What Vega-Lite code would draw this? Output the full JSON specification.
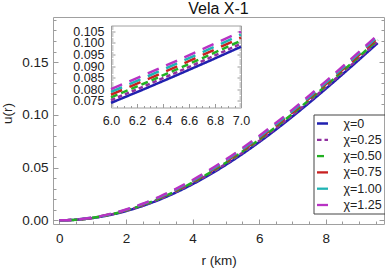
{
  "$schema": "https://vega.github.io/schema/vega-lite/v6.json",
  "padding": {"left": 0, "top": 0, "right": 0, "bottom": 0},
  "background": "white",
  "config": {
    "font": "Liberation Sans",
    "view": {"stroke": "#a0a0a0", "strokeWidth": 1},
    "axis": {"grid": false, "domain": false, "labelColor": "#222", "titleColor": "#222", "tickColor": "#9a9a9a", "tickWidth": 1, "titleFontWeight": "normal", "labelFont": "Liberation Sans", "titleFont": "Liberation Sans"}
  },
  "datasets": {
    "curves": [
      {"r":0,"chi":"χ=0","u":0},{"r":0.5,"chi":"χ=0","u":0.00055},{"r":1,"chi":"χ=0","u":0.0022},{"r":1.5,"chi":"χ=0","u":0.00493},{"r":2,"chi":"χ=0","u":0.00874},{"r":2.5,"chi":"χ=0","u":0.0136},{"r":3,"chi":"χ=0","u":0.01949},{"r":3.5,"chi":"χ=0","u":0.02637},{"r":4,"chi":"χ=0","u":0.0342},{"r":4.5,"chi":"χ=0","u":0.04294},{"r":5,"chi":"χ=0","u":0.05254},{"r":5.5,"chi":"χ=0","u":0.06295},{"r":6,"chi":"χ=0","u":0.07409},{"r":6.25,"chi":"χ=0","u":0.07992},{"r":6.5,"chi":"χ=0","u":0.08591},{"r":6.75,"chi":"χ=0","u":0.09204},{"r":7,"chi":"χ=0","u":0.09832},{"r":7.5,"chi":"χ=0","u":0.11125},{"r":8,"chi":"χ=0","u":0.1246},{"r":8.5,"chi":"χ=0","u":0.1383},{"r":9,"chi":"χ=0","u":0.15223},{"r":9.56,"chi":"χ=0","u":0.168},
      {"r":0,"chi":"χ=0.25","u":0},{"r":0.5,"chi":"χ=0.25","u":0.00057},{"r":1,"chi":"χ=0.25","u":0.00228},{"r":1.5,"chi":"χ=0.25","u":0.00511},{"r":2,"chi":"χ=0.25","u":0.00904},{"r":2.5,"chi":"χ=0.25","u":0.01403},{"r":3,"chi":"χ=0.25","u":0.02005},{"r":3.5,"chi":"χ=0.25","u":0.02706},{"r":4,"chi":"χ=0.25","u":0.03501},{"r":4.5,"chi":"χ=0.25","u":0.04386},{"r":5,"chi":"χ=0.25","u":0.05356},{"r":5.5,"chi":"χ=0.25","u":0.06405},{"r":6,"chi":"χ=0.25","u":0.07527},{"r":6.25,"chi":"χ=0.25","u":0.08114},{"r":6.5,"chi":"χ=0.25","u":0.08716},{"r":6.75,"chi":"χ=0.25","u":0.09332},{"r":7,"chi":"χ=0.25","u":0.09963},{"r":7.5,"chi":"χ=0.25","u":0.11261},{"r":8,"chi":"χ=0.25","u":0.12601},{"r":8.5,"chi":"χ=0.25","u":0.13975},{"r":9,"chi":"χ=0.25","u":0.15372},{"r":9.56,"chi":"χ=0.25","u":0.16953},
      {"r":0,"chi":"χ=0.50","u":0},{"r":0.5,"chi":"χ=0.50","u":0.00059},{"r":1,"chi":"χ=0.50","u":0.00237},{"r":1.5,"chi":"χ=0.50","u":0.00529},{"r":2,"chi":"χ=0.50","u":0.00933},{"r":2.5,"chi":"χ=0.50","u":0.01445},{"r":3,"chi":"χ=0.50","u":0.02061},{"r":3.5,"chi":"χ=0.50","u":0.02774},{"r":4,"chi":"χ=0.50","u":0.03581},{"r":4.5,"chi":"χ=0.50","u":0.04477},{"r":5,"chi":"χ=0.50","u":0.05457},{"r":5.5,"chi":"χ=0.50","u":0.06516},{"r":6,"chi":"χ=0.50","u":0.07645},{"r":6.25,"chi":"χ=0.50","u":0.08235},{"r":6.5,"chi":"χ=0.50","u":0.08841},{"r":6.75,"chi":"χ=0.50","u":0.0946},{"r":7,"chi":"χ=0.50","u":0.10094},{"r":7.5,"chi":"χ=0.50","u":0.11398},{"r":8,"chi":"χ=0.50","u":0.12742},{"r":8.5,"chi":"χ=0.50","u":0.14121},{"r":9,"chi":"χ=0.50","u":0.15521},{"r":9.56,"chi":"χ=0.50","u":0.17105},
      {"r":0,"chi":"χ=0.75","u":0},{"r":0.5,"chi":"χ=0.75","u":0.00062},{"r":1,"chi":"χ=0.75","u":0.00245},{"r":1.5,"chi":"χ=0.75","u":0.00547},{"r":2,"chi":"χ=0.75","u":0.00963},{"r":2.5,"chi":"χ=0.75","u":0.01488},{"r":3,"chi":"χ=0.75","u":0.02117},{"r":3.5,"chi":"χ=0.75","u":0.02843},{"r":4,"chi":"χ=0.75","u":0.03662},{"r":4.5,"chi":"χ=0.75","u":0.04569},{"r":5,"chi":"χ=0.75","u":0.05559},{"r":5.5,"chi":"χ=0.75","u":0.06626},{"r":6,"chi":"χ=0.75","u":0.07764},{"r":6.25,"chi":"χ=0.75","u":0.08357},{"r":6.5,"chi":"χ=0.75","u":0.08966},{"r":6.75,"chi":"χ=0.75","u":0.09589},{"r":7,"chi":"χ=0.75","u":0.10225},{"r":7.5,"chi":"χ=0.75","u":0.11534},{"r":8,"chi":"χ=0.75","u":0.12883},{"r":8.5,"chi":"χ=0.75","u":0.14266},{"r":9,"chi":"χ=0.75","u":0.1567},{"r":9.56,"chi":"χ=0.75","u":0.17258},
      {"r":0,"chi":"χ=1.00","u":0},{"r":0.5,"chi":"χ=1.00","u":0.00064},{"r":1,"chi":"χ=1.00","u":0.00254},{"r":1.5,"chi":"χ=1.00","u":0.00565},{"r":2,"chi":"χ=1.00","u":0.00993},{"r":2.5,"chi":"χ=1.00","u":0.01531},{"r":3,"chi":"χ=1.00","u":0.02172},{"r":3.5,"chi":"χ=1.00","u":0.02912},{"r":4,"chi":"χ=1.00","u":0.03743},{"r":4.5,"chi":"χ=1.00","u":0.04661},{"r":5,"chi":"χ=1.00","u":0.0566},{"r":5.5,"chi":"χ=1.00","u":0.06737},{"r":6,"chi":"χ=1.00","u":0.07882},{"r":6.25,"chi":"χ=1.00","u":0.08479},{"r":6.5,"chi":"χ=1.00","u":0.09091},{"r":6.75,"chi":"χ=1.00","u":0.09717},{"r":7,"chi":"χ=1.00","u":0.10357},{"r":7.5,"chi":"χ=1.00","u":0.11671},{"r":8,"chi":"χ=1.00","u":0.13025},{"r":8.5,"chi":"χ=1.00","u":0.14411},{"r":9,"chi":"χ=1.00","u":0.15819},{"r":9.56,"chi":"χ=1.00","u":0.1741},
      {"r":0,"chi":"χ=1.25","u":0},{"r":0.5,"chi":"χ=1.25","u":0.00066},{"r":1,"chi":"χ=1.25","u":0.00262},{"r":1.5,"chi":"χ=1.25","u":0.00583},{"r":2,"chi":"χ=1.25","u":0.01023},{"r":2.5,"chi":"χ=1.25","u":0.01573},{"r":3,"chi":"χ=1.25","u":0.02228},{"r":3.5,"chi":"χ=1.25","u":0.0298},{"r":4,"chi":"χ=1.25","u":0.03823},{"r":4.5,"chi":"χ=1.25","u":0.04752},{"r":5,"chi":"χ=1.25","u":0.05762},{"r":5.5,"chi":"χ=1.25","u":0.06847},{"r":6,"chi":"χ=1.25","u":0.08},{"r":6.25,"chi":"χ=1.25","u":0.08601},{"r":6.5,"chi":"χ=1.25","u":0.09216},{"r":6.75,"chi":"χ=1.25","u":0.09845},{"r":7,"chi":"χ=1.25","u":0.10488},{"r":7.5,"chi":"χ=1.25","u":0.11807},{"r":8,"chi":"χ=1.25","u":0.13166},{"r":8.5,"chi":"χ=1.25","u":0.14557},{"r":9,"chi":"χ=1.25","u":0.15968},{"r":9.56,"chi":"χ=1.25","u":0.17563}
    ]
  },
  "bounds": "full",
  "align": "none",
  "columns": 2,
  "spacing": {"column": -313, "row": 0},
  "concat": [
    {
      "width": 331,
      "height": 207,
      "title": {"text": "Vela X-1", "frame": "group", "anchor": "middle", "fontSize": 16, "fontWeight": "normal", "baseline": "alphabetic", "offset": -17, "color": "#111", "font": "Liberation Sans"},
      "data": {"name": "curves"},
      "layer": [
        {
          "mark": {"type": "line", "strokeWidth": 2.5, "interpolate": "monotone"},
          "encoding": {
            "x": {"field": "r", "type": "quantitative", "scale": {"domain": [-0.19, 9.75], "nice": false, "zero": false},
              "axis": {"orient": "bottom", "title": "r (km)", "values": [0,0.5,1,1.5,2,2.5,3,3.5,4,4.5,5,5.5,6,6.5,7,7.5,8,8.5,9,9.5],
                "format": ".0f",
                "labelExpr": "datum.value % 2 === 0 ? datum.label : ''",
                "tickSize": {"condition": {"test": "datum.value % 2 === 0", "value": -5}, "value": -3},
                "labelPadding": 12, "labelFontSize": 13.5, "titleFontSize": 13.5, "titlePadding": 7, "labelFlush": false, "labelOverlap": false}},
            "y": {"field": "u", "type": "quantitative", "scale": {"domain": [-0.0035, 0.1927], "nice": false, "zero": false},
              "axis": {"orient": "left", "title": "u(r)", "values": [0,0.01,0.02,0.03,0.04,0.05,0.06,0.07,0.08,0.09,0.1,0.11,0.12,0.13,0.14,0.15,0.16,0.17,0.18,0.19],
                "format": ".2f",
                "labelExpr": "abs(datum.value*20 - round(datum.value*20)) < 1e-6 ? datum.label : ''",
                "tickSize": {"condition": {"test": "abs(datum.value*20 - round(datum.value*20)) < 1e-6", "value": -5}, "value": -3},
                "labelPadding": 10, "labelFontSize": 13.5, "titleFontSize": 13.5, "titlePadding": 7, "titleY": 96, "labelFlush": false, "labelOverlap": false}},
            "color": {"field": "chi", "type": "nominal",
              "scale": {"domain": ["χ=0","χ=0.25","χ=0.50","χ=0.75","χ=1.00","χ=1.25"], "range": ["#2020b0","#9030a0","#22b022","#c82020","#20b4b4","#b832c4"]},
              "legend": {"title": null, "orient": "none", "legendX": 260.5, "legendY": 97.5, "direction": "vertical", "symbolType": "stroke", "symbolSize": 121, "symbolStrokeWidth": 2.3, "labelFontSize": 12.5, "labelFont": "Liberation Sans", "labelColor": "#222", "labelOffset": 14, "padding": 2, "rowPadding": 2.3, "strokeColor": "#444", "fillColor": "white", "cornerRadius": 0}},
            "strokeDash": {"field": "chi", "type": "nominal",
              "scale": {"domain": ["χ=0","χ=0.25","χ=0.50","χ=0.75","χ=1.00","χ=1.25"], "range": [[1,0],[4.5,3],[7,4],[12,8],[12,8],[12,8]]},
              "legend": {"title": null, "orient": "none", "legendX": 260.5, "legendY": 97.5, "direction": "vertical", "symbolType": "stroke", "symbolSize": 121, "symbolStrokeWidth": 2.3, "labelFontSize": 12.5, "labelFont": "Liberation Sans", "labelColor": "#222", "labelOffset": 14, "padding": 2, "rowPadding": 2.3, "strokeColor": "#444", "fillColor": "white", "cornerRadius": 0}}
          }
        },
        {
          "mark": {"type": "point", "opacity": 0},
          "encoding": {
            "x": {"field": "r", "type": "quantitative", "axis": null},
            "y": {"field": "u", "type": "quantitative",
              "axis": {"orient": "right", "title": null, "labels": false, "values": [0,0.01,0.02,0.03,0.04,0.05,0.06,0.07,0.08,0.09,0.1,0.11,0.12,0.13,0.14,0.15,0.16,0.17,0.18,0.19],
                "tickSize": {"condition": {"test": "abs(datum.value*20 - round(datum.value*20)) < 1e-6", "value": -5}, "value": -3}}}
          }
        }
      ],
      "resolve": {"axis": {"x": "independent", "y": "independent"}}
    },
    {
      "spacing": -1.5,
      "vconcat": [
        {
          "width": 1,
          "height": 1,
          "view": {"stroke": null, "fill": null},
          "data": {"values": [{"s": 0}]},
          "mark": {"type": "point", "opacity": 0},
          "encoding": {}
        },
        {
          "width": 130,
          "height": 82,
          "view": {"fill": "white", "stroke": "#a0a0a0"},
          "data": {"name": "curves"},
          "transform": [{"filter": "datum.r >= 6 && datum.r <= 7"}],
          "layer": [
            {
              "mark": {"type": "line", "strokeWidth": 2.5},
              "encoding": {
                "x": {"field": "r", "type": "quantitative", "scale": {"domain": [6, 7], "nice": false, "zero": false},
                  "axis": {"orient": "bottom", "title": null, "values": [6,6.05,6.1,6.15,6.2,6.25,6.3,6.35,6.4,6.45,6.5,6.55,6.6,6.65,6.7,6.75,6.8,6.85,6.9,6.95,7],
                    "format": ".1f",
                    "labelExpr": "abs(datum.value*5 - round(datum.value*5)) < 1e-6 ? datum.label : ''",
                    "tickSize": {"condition": {"test": "abs(datum.value*5 - round(datum.value*5)) < 1e-6", "value": -4}, "value": -2},
                    "labelPadding": 11, "labelFontSize": 12.5, "labelFlush": false, "labelOverlap": false}},
                "y": {"field": "u", "type": "quantitative", "scale": {"domain": [0.0721, 0.1075], "nice": false, "zero": false},
                  "axis": {"orient": "left", "title": null, "values": [0.073,0.074,0.075,0.076,0.077,0.078,0.079,0.08,0.081,0.082,0.083,0.084,0.085,0.086,0.087,0.088,0.089,0.09,0.091,0.092,0.093,0.094,0.095,0.096,0.097,0.098,0.099,0.1,0.101,0.102,0.103,0.104,0.105,0.106,0.107],
                    "format": ".3f",
                    "labelExpr": "abs(datum.value*200 - round(datum.value*200)) < 1e-6 ? datum.label : ''",
                    "tickSize": {"condition": {"test": "abs(datum.value*200 - round(datum.value*200)) < 1e-6", "value": -4}, "value": -2},
                    "labelPadding": 11, "labelFontSize": 12.5, "labelFlush": false, "labelOverlap": false}},
                "color": {"field": "chi", "type": "nominal",
                  "scale": {"domain": ["χ=0","χ=0.25","χ=0.50","χ=0.75","χ=1.00","χ=1.25"], "range": ["#2020b0","#9030a0","#22b022","#c82020","#20b4b4","#b832c4"]},
                  "legend": null},
                "strokeDash": {"field": "chi", "type": "nominal",
                  "scale": {"domain": ["χ=0","χ=0.25","χ=0.50","χ=0.75","χ=1.00","χ=1.25"], "range": [[1,0],[4.5,3],[7,4],[12,8],[12,8],[12,8]]},
                  "legend": null}
              }
            },
            {
              "mark": {"type": "point", "opacity": 0},
              "encoding": {
                "x": {"field": "r", "type": "quantitative", "axis": null},
                "y": {"field": "u", "type": "quantitative",
                  "axis": {"orient": "right", "title": null, "labels": false, "values": [0.073,0.074,0.075,0.076,0.077,0.078,0.079,0.08,0.081,0.082,0.083,0.084,0.085,0.086,0.087,0.088,0.089,0.09,0.091,0.092,0.093,0.094,0.095,0.096,0.097,0.098,0.099,0.1,0.101,0.102,0.103,0.104,0.105,0.106,0.107],
                    "tickSize": {"condition": {"test": "abs(datum.value*200 - round(datum.value*200)) < 1e-6", "value": -4}, "value": -2}}}
              }
            }
          ],
          "resolve": {"axis": {"x": "independent", "y": "independent"}}
        }
      ]
    }
  ]
}
